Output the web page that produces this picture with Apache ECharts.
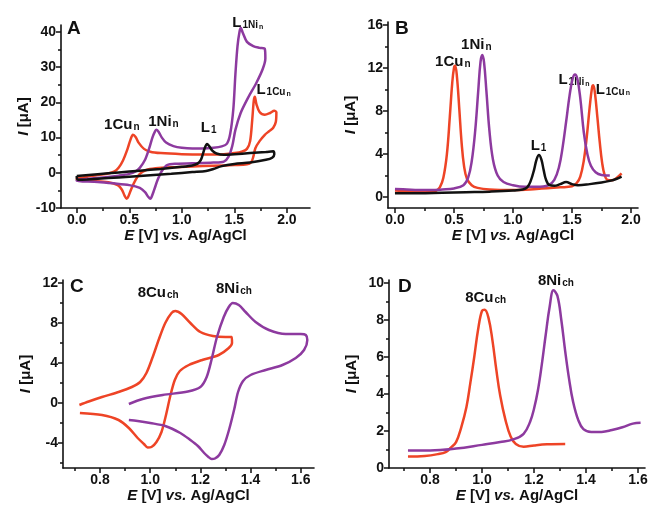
<!DOCTYPE html>
<html>
<head>
<meta charset="utf-8">
<script src="https://cdn.jsdelivr.net/npm/echarts@6/dist/echarts.min.js"></script>
<style>
html, body { margin: 0; padding: 0; background: #fff; }
#chart { width: 652px; height: 507px; }
</style>
</head>
<body>
<div id="chart"></div>
<script>
// ---- panel A : cyclic voltammograms, [E (V), I (uA)] in scan order
var aRed = [[0.0,-1.6],[0.1,-1.1],[0.2,-0.6],[0.3,-0.2],[0.36,0.4],[0.4,1.5],[0.44,3.5],[0.48,6.5],[0.51,9.3],[0.535,10.8],[0.56,10.2],[0.59,8.5],[0.64,6.8],[0.7,6.0],[0.8,5.6],[1.0,5.3],[1.2,5.2],[1.4,5.3],[1.5,5.6],[1.57,6.0],[1.62,6.8],[1.65,9.0],[1.67,15.0],[1.685,20.5],[1.695,21.6],[1.71,19.5],[1.74,17.3],[1.79,16.5],[1.84,17.0],[1.88,17.6],[1.9,17.2],[1.895,14.5],[1.87,12.8],[1.83,11.8],[1.79,10.8],[1.74,9.0],[1.70,7.0],[1.68,4.5],[1.66,3.0],[1.62,2.4],[1.5,2.2],[1.3,2.0],[1.1,1.8],[0.9,1.6],[0.75,1.3],[0.66,0.8],[0.6,-0.3],[0.56,-2.0],[0.52,-4.5],[0.49,-6.8],[0.475,-7.4],[0.455,-6.5],[0.43,-4.8],[0.39,-3.5],[0.3,-2.7],[0.15,-2.3],[0.0,-2.0],[0.0,-1.6]];
var aPurple = [[0.0,-2.0],[0.2,-1.5],[0.4,-0.8],[0.5,-0.3],[0.56,0.4],[0.6,1.4],[0.65,3.7],[0.69,7.0],[0.72,10.0],[0.745,11.8],[0.76,12.2],[0.78,11.6],[0.81,10.0],[0.85,8.6],[0.92,7.6],[1.0,7.1],[1.1,6.9],[1.2,6.9],[1.3,7.1],[1.38,7.5],[1.43,8.3],[1.46,11.0],[1.49,18.0],[1.51,28.0],[1.53,36.0],[1.55,40.2],[1.562,41.2],[1.58,39.8],[1.62,37.2],[1.68,36.0],[1.74,35.5],[1.79,35.2],[1.795,32.5],[1.77,29.5],[1.71,25.6],[1.63,21.3],[1.56,17.0],[1.51,12.2],[1.48,7.6],[1.445,4.6],[1.4,3.2],[1.3,2.9],[1.1,2.7],[0.95,2.6],[0.86,2.2],[0.81,0.5],[0.77,-2.0],[0.735,-5.0],[0.71,-7.0],[0.70,-7.4],[0.68,-6.8],[0.65,-5.5],[0.6,-4.3],[0.5,-3.5],[0.35,-3.0],[0.2,-2.6],[0.0,-2.3],[0.0,-2.0]];
var aBlack = [[0.0,-0.9],[0.2,-0.4],[0.4,0.1],[0.6,0.6],[0.8,1.1],[1.0,1.7],[1.1,2.1],[1.15,2.6],[1.18,3.6],[1.2,5.3],[1.22,7.2],[1.24,8.2],[1.26,7.6],[1.29,6.3],[1.33,5.5],[1.4,5.1],[1.5,5.3],[1.65,5.6],[1.8,5.9],[1.87,6.1],[1.88,5.3],[1.86,4.3],[1.8,3.7],[1.65,2.9],[1.5,2.5],[1.38,1.9],[1.3,1.1],[1.23,0.5],[1.1,0.2],[0.9,-0.3],[0.7,-0.7],[0.5,-1.1],[0.3,-1.5],[0.1,-1.9],[0.02,-2.0],[0.0,-1.5],[0.0,-0.9]];

// ---- panel B : differential pulse voltammograms
var bRed = [[0.0,0.6],[0.1,0.55],[0.2,0.5],[0.3,0.5],[0.35,0.6],[0.38,0.9],[0.41,1.8],[0.44,4.0],[0.465,7.5],[0.485,10.6],[0.5,12.0],[0.51,12.2],[0.525,11.2],[0.545,8.2],[0.565,5.0],[0.585,2.9],[0.61,1.7],[0.65,1.1],[0.7,0.85],[0.8,0.7],[1.0,0.65],[1.2,0.75],[1.4,0.9],[1.5,1.0],[1.54,1.3],[1.57,1.9],[1.60,3.4],[1.625,5.6],[1.65,8.4],[1.67,10.2],[1.68,10.4],[1.695,9.6],[1.715,7.4],[1.735,5.1],[1.755,3.2],[1.775,2.1],[1.80,1.6],[1.84,1.55],[1.88,1.8],[1.92,2.2]];
var bPurple = [[0.0,0.75],[0.1,0.7],[0.2,0.65],[0.3,0.65],[0.4,0.7],[0.5,0.8],[0.58,1.1],[0.62,1.8],[0.65,3.3],[0.68,6.2],[0.705,9.8],[0.725,12.6],[0.74,13.2],[0.755,12.5],[0.775,9.8],[0.8,6.2],[0.83,3.5],[0.87,2.0],[0.92,1.4],[1.0,1.1],[1.1,0.95],[1.2,0.95],[1.3,1.1],[1.35,1.6],[1.39,2.8],[1.42,4.6],[1.45,7.0],[1.48,9.5],[1.505,11.0],[1.525,11.4],[1.545,11.0],[1.57,9.2],[1.6,6.0],[1.63,4.0],[1.66,2.9],[1.7,2.3],[1.75,2.05],[1.82,2.0]];
var bBlack = [[0.0,0.35],[0.2,0.35],[0.4,0.4],[0.6,0.45],[0.8,0.5],[1.0,0.6],[1.08,0.7],[1.12,0.9],[1.15,1.5],[1.18,2.6],[1.2,3.5],[1.22,3.9],[1.24,3.5],[1.26,2.5],[1.28,1.6],[1.31,1.1],[1.35,1.05],[1.4,1.2],[1.45,1.4],[1.5,1.2],[1.55,1.1],[1.65,1.2],[1.75,1.35],[1.82,1.5],[1.88,1.7],[1.92,1.9]];

// ---- panel C : cyclic voltammograms
var cRed = [[0.718,-0.2],[0.755,0.15],[0.808,0.6],[0.874,1.1],[0.927,1.6],[0.96,2.1],[0.985,3.0],[1.01,4.6],[1.035,6.4],[1.06,8.0],[1.085,9.0],[1.10,9.2],[1.125,8.9],[1.16,8.0],[1.2,7.1],[1.25,6.7],[1.3,6.6],[1.325,6.6],[1.326,6.0],[1.313,5.5],[1.273,4.8],[1.207,4.3],[1.154,3.8],[1.118,3.2],[1.098,2.3],[1.08,0.7],[1.063,-1.2],[1.045,-2.9],[1.025,-3.9],[1.005,-4.4],[0.99,-4.45],[0.975,-4.1],[0.95,-3.5],[0.915,-2.5],[0.874,-1.7],[0.808,-1.2],[0.72,-1.0]];
var cPurple = [[0.915,-0.1],[0.97,0.4],[1.05,0.8],[1.15,1.15],[1.2,1.6],[1.225,2.6],[1.245,4.4],[1.266,6.6],[1.293,8.6],[1.313,9.6],[1.329,10.0],[1.353,9.8],[1.38,9.1],[1.42,8.1],[1.473,7.3],[1.54,6.9],[1.6,6.9],[1.62,6.8],[1.626,6.3],[1.613,5.3],[1.58,4.5],[1.527,3.8],[1.46,3.3],[1.40,2.8],[1.37,2.2],[1.35,1.1],[1.335,-0.6],[1.315,-2.6],[1.295,-4.2],[1.275,-5.2],[1.258,-5.55],[1.245,-5.6],[1.232,-5.4],[1.215,-5.0],[1.19,-4.3],[1.16,-3.7],[1.12,-3.0],[1.06,-2.3],[1.0,-2.0],[0.95,-1.8],[0.915,-1.7]];

// ---- panel D : differential pulse voltammograms
var dRed = [[0.715,0.62],[0.78,0.65],[0.83,0.75],[0.86,0.86],[0.88,1.1],[0.90,1.4],[0.92,2.2],[0.94,3.3],[0.955,4.6],[0.97,6.0],[0.985,7.5],[1.0,8.5],[1.01,8.55],[1.025,8.1],[1.04,6.9],[1.055,5.3],[1.07,3.9],[1.09,2.6],[1.11,1.7],[1.13,1.3],[1.16,1.15],[1.2,1.22],[1.25,1.28],[1.32,1.3]];
var dPurple = [[0.715,0.95],[0.8,0.95],[0.9,1.05],[1.0,1.25],[1.07,1.4],[1.12,1.55],[1.16,1.85],[1.185,2.5],[1.2,3.2],[1.215,4.2],[1.23,5.6],[1.245,7.2],[1.26,8.7],[1.275,9.6],[1.29,9.3],[1.305,8.0],[1.32,6.3],[1.335,4.8],[1.35,3.6],[1.37,2.6],[1.39,2.1],[1.42,1.95],[1.46,1.95],[1.5,2.05],[1.54,2.2],[1.58,2.4],[1.61,2.45]];

// ---- tick values
var xTicksAB = [0, 0.5, 1.0, 1.5, 2.0];
var xMinorAB = [0.25, 0.75, 1.25, 1.75];
var yTicksA = [-10, 0, 10, 20, 30, 40];
var yMinorA = [-5, 5, 15, 25, 35];
var yTicksB = [0, 4, 8, 12, 16];
var yMinorB = [2, 6, 10, 14];
var xTicksCD = [0.8, 1.0, 1.2, 1.4, 1.6];
var xMinorCD = [0.7, 0.9, 1.1, 1.3, 1.5];
var yTicksC = [-4, 0, 4, 8, 12];
var yMinorC = [-6, -2, 2, 6, 10];
var yTicksD = [0, 2, 4, 6, 8, 10];
var yMinorD = [1, 3, 5, 7, 9];

// ---- peak labels [E, I, text]
var aLabels = [[0.26,13.6,'{b|1Cu}{s|n}'],[0.68,14.6,'{b|1Ni}{s|n}'],[1.18,12.8,'{b|L}{s|1}'],[1.48,42.6,'{b|L}{s|1Ni}{ss|n}'],[1.71,23.6,'{b|L}{s|1Cu}{ss|n}']];
var bLabels = [[0.34,12.6,'{b|1Cu}{s|n}'],[0.56,14.2,'{b|1Ni}{s|n}'],[1.15,4.8,'{b|L}{s|1}'],[1.385,10.9,'{b|L}{s|1Ni}{ss|n}'],[1.70,10.0,'{b|L}{s|1Cu}{ss|n}']];
var cLabels = [[0.95,11.0,'{b|8Cu}{s|ch}'],[1.262,11.4,'{b|8Ni}{s|ch}']];
var dLabels = [[0.935,9.2,'{b|8Cu}{s|ch}'],[1.215,10.1,'{b|8Ni}{s|ch}']];

var RED = '#ee4426';
var PURPLE = '#8d3a9f';
var BLACK = '#111111';
var FONT = 'Liberation Sans';

var chart = echarts.init(document.getElementById('chart'));

var nameRich = {
    i: {fontStyle: 'italic', fontWeight: 'bold', fontSize: 15, fontFamily: FONT, color: '#111'}
};
var peakRich = {
    b: {fontSize: 15, fontWeight: 'bold', fontFamily: FONT, color: '#111'},
    s: {fontSize: 10, fontWeight: 'bold', fontFamily: FONT, color: '#111', verticalAlign: 'bottom', lineHeight: 10, padding: [10, 0, 0, 1]},
    ss: {fontSize: 7, fontWeight: 'bold', fontFamily: FONT, color: '#111', verticalAlign: 'bottom', lineHeight: 7, padding: [15, 0, 0, 1]}
};

function fmt(dec) {
    return function (v) { return Number(v).toFixed(dec); };
}

function xAxes(g, range, ticks, minor, dec) {
    return [{
        type: 'value', gridIndex: g, min: range[0], max: range[1], position: 'bottom',
        axisLine: {onZero: false, lineStyle: {color: '#111', width: 1.6}},
        axisTick: {length: 5, lineStyle: {color: '#111', width: 1.5}, customValues: ticks},
        axisLabel: {customValues: ticks, formatter: fmt(dec), color: '#111', fontFamily: FONT, fontWeight: 'bold', fontSize: 14, margin: 5},
        splitLine: {show: false},
        name: '{i|E} [V] {i|vs.} Ag/AgCl', nameLocation: 'middle', nameGap: 19,
        nameTextStyle: {color: '#111', fontFamily: FONT, fontWeight: 'bold', fontSize: 15, rich: nameRich}
    }, {
        // minor ticks
        type: 'value', gridIndex: g, min: range[0], max: range[1], position: 'bottom',
        axisLine: {show: false, onZero: false},
        axisTick: {show: true, length: 3, lineStyle: {color: '#111', width: 1.5}, customValues: minor},
        axisLabel: {show: true, customValues: minor, formatter: function () { return ''; }},
        splitLine: {show: false}
    }];
}

function yAxes(g, range, ticks, minor) {
    return [{
        type: 'value', gridIndex: g, min: range[0], max: range[1], position: 'left',
        axisLine: {show: true, onZero: false, lineStyle: {color: '#111', width: 1.6}},
        axisTick: {show: true, length: 5, lineStyle: {color: '#111', width: 1.5}, customValues: ticks},
        axisLabel: {customValues: ticks, formatter: fmt(0), color: '#111', fontFamily: FONT, fontWeight: 'bold', fontSize: 14, margin: 5},
        splitLine: {show: false},
        name: '{i|I} [μA]', nameLocation: 'middle', nameGap: 30,
        nameTextStyle: {color: '#111', fontFamily: FONT, fontWeight: 'bold', fontSize: 15, rich: nameRich}
    }, {
        type: 'value', gridIndex: g, min: range[0], max: range[1], position: 'left',
        axisLine: {show: false, onZero: false},
        axisTick: {show: true, length: 3, lineStyle: {color: '#111', width: 1.5}, customValues: minor},
        axisLabel: {show: true, customValues: minor, formatter: function () { return ''; }},
        splitLine: {show: false}
    }];
}

function curve(g, data, color, smooth) {
    return {
        type: 'line', xAxisIndex: 2 * g, yAxisIndex: 2 * g, data: data,
        symbol: 'none', smooth: smooth, animation: false,
        lineStyle: {color: color, width: 2.5}, itemStyle: {color: color}
    };
}

function labels(g, data) {
    return {
        type: 'scatter', xAxisIndex: 2 * g, yAxisIndex: 2 * g, data: data,
        symbolSize: 0, itemStyle: {color: '#111', opacity: 1}, clip: false, silent: true, animation: false,
        label: {show: true, position: 'right', distance: 0, color: '#111', opacity: 1,
            formatter: function (p) { return p.value[2]; }, rich: peakRich}
    };
}

var grids = [
    {left: 61, top: 25, width: 249, height: 183},
    {left: 388, top: 22, width: 250, height: 186},
    {left: 63, top: 280, width: 251, height: 188},
    {left: 389, top: 280, width: 256, height: 188}
];

var xs = [].concat(
    xAxes(0, [-0.15, 2.22], xTicksAB, xMinorAB, 1),
    xAxes(1, [-0.059, 2.059], xTicksAB, xMinorAB, 1),
    xAxes(2, [0.6526, 1.6526], xTicksCD, xMinorCD, 1),
    xAxes(3, [0.642, 1.627], xTicksCD, xMinorCD, 1)
);
var ys = [].concat(
    yAxes(0, [-10, 42], yTicksA, yMinorA),
    yAxes(1, [-1.02, 16.28], yTicksB, yMinorB),
    yAxes(2, [-6.5, 12.3], yTicksC, yMinorC),
    yAxes(3, [0, 10.16], yTicksD, yMinorD)
);

var letterStyle = {fontSize: 19, fontWeight: 'bold', fontFamily: FONT, color: '#111'};

option = {
    backgroundColor: '#fff',
    animation: false,
    title: [
        {text: 'A', left: 67, top: 19, padding: 0, textStyle: letterStyle},
        {text: 'B', left: 395, top: 19, padding: 0, textStyle: letterStyle},
        {text: 'C', left: 70, top: 277, padding: 0, textStyle: letterStyle},
        {text: 'D', left: 398, top: 277, padding: 0, textStyle: letterStyle}
    ],
    grid: grids,
    xAxis: xs,
    yAxis: ys,
    series: [
        curve(0, aRed, RED, 0.3),
        curve(0, aPurple, PURPLE, 0.3),
        curve(0, aBlack, BLACK, 0.3),
        labels(0, aLabels),
        curve(1, bRed, RED, 0.4),
        curve(1, bPurple, PURPLE, 0.4),
        curve(1, bBlack, BLACK, 0.4),
        labels(1, bLabels),
        curve(2, cRed, RED, 0.3),
        curve(2, cPurple, PURPLE, 0.3),
        labels(2, cLabels),
        curve(3, dRed, RED, 0.4),
        curve(3, dPurple, PURPLE, 0.4),
        labels(3, dLabels)
    ]
};
chart.setOption(option);
</script>
</body>
</html>
